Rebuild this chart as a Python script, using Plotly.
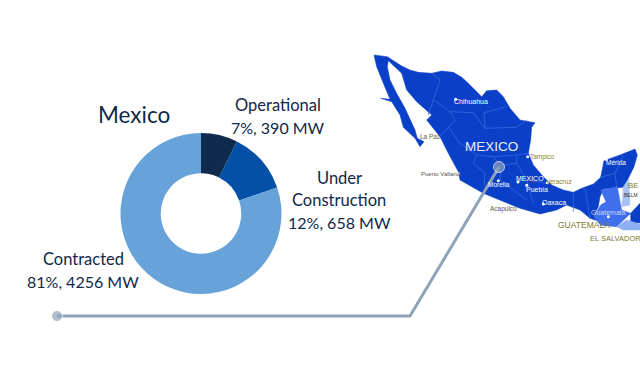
import plotly.graph_objects as go

# donut data
categories = ["Operational", "Under Construction", "Contracted"]
megawatts = [390, 658, 4256]
slice_colors = ["#0f2a4d", "#0450a8", "#67a3d9"]

# map outlines, in zoom-crop units of the reference (x0=360, y0=40, scale=3)
mexico_outline = [(42,45),(82,50),(125,78),(150,90),(175,97),(215,100),(245,93),(280,97),(305,112),(320,125),(345,150),(365,170),
 (380,152),(410,150),(430,170),(450,205),(480,240),(525,248),(515,262),(512,300),(505,340),(520,375),
 (548,408),(575,435),(610,450),(640,457),(665,445),(700,432),(722,412),(732,362),(780,345),(825,327),
 (832,345),(822,380),(805,415),(790,442),(730,447),(720,470),(715,500),(702,525),(722,545),(690,535),(660,510),
 (620,495),(590,510),(540,522),(480,505),(420,480),(370,460),(300,420),(295,395),(265,340),(240,290),
 (200,240),(215,225),(170,185),(140,150),(125,100),(85,62),(82,80),(90,120),(110,160),(135,205),(165,270),
 (172,295),(192,305),(180,320),(165,295),(130,262),(120,225),(95,185),(62,175),(90,178),(70,130),(50,80)]
guatemala_outline = [(722,450),(772,440),(785,510),(812,520),(770,560),(722,556),(702,530),(722,495),(738,485)]
belize_outline = [(790,440),(806,418),(810,495),(785,500)]
honduras_outline = [(812,520),(840,490),(840,548),(812,550)]
salvador_outline = [(770,560),(800,540),(840,552),(840,570),(790,570)]
state_borders = [
 [(215,100),(240,120),(220,180),(205,225)],
 [(220,180),(270,215),(285,240),(265,262),(300,310)],
 [(270,215),(340,218),(375,265),(372,218),(440,200)],
 [(375,265),(470,262),(500,240)],
 [(300,310),(350,345),(400,350),(470,345),(505,340)],
 [(350,345),(340,370),(375,400),(372,440)],
 [(400,350),(420,375),(470,370),(470,345)],
 [(470,370),(500,420),(560,430)],
 [(420,375),(420,420),(500,480)],
 [(500,420),(520,490)],
 [(640,457),(640,515)],
 [(722,412),(765,400),(790,345)],
 [(765,400),(770,440)],
 [(675,445),(690,535)],
 [(240,290),(265,262)],
]
map_labels = [("Chihuahua",333,183,7,"#ffffff"),("La Paz",211,290,6.5,"#5e5a3e"),("Puerto Vallarta",243,401,6,"#555555"),
 ("Tampico",547,350,6.5,"#8a8420"),("Morelia",417,432,6.5,"#ffffff"),("MEXICO",511,415,7,"#ffffff"),
 ("Puebia",530,449,7,"#ffffff"),("Veracruz",597,424,6.5,"#8a8420"),("Oaxaca",582,487,7,"#ffffff"),
 ("Acapulco",431,506,6.5,"#5e5a3e"),("Mérida",768,368,6.5,"#ffffff"),("Guatemala",745,516,7,"#c9d8f8"),
 ("GUATEMALA",672,556,8.5,"#7f7a2a"),("EL SALVADOR",766,596,7.5,"#7f7a2a"),("BE",820,437,8,"#7f7a2a"),("BELM",812,465,5,"#333333")]
city_dots = [(287,178),(503,350),(474,426),(500,436),(562,428),(550,492),(738,358),(415,422),(296,401),(785,455),(745,530)]

X = lambda v: 360 + v / 3
Y = lambda v: 40 + v / 3

fig = go.Figure()

def poly(pts, color):
    fig.add_trace(go.Scatter(x=[X(p[0]) for p in pts] + [X(pts[0][0])], y=[Y(p[1]) for p in pts] + [Y(pts[0][1])],
        mode="lines", fill="toself", fillcolor=color, line=dict(color=color, width=0.5), hoverinfo="skip", showlegend=False))

poly(mexico_outline, "#0a3fc8")
for line in state_borders:
    fig.add_trace(go.Scatter(x=[X(p[0]) for p in line], y=[Y(p[1]) for p in line], mode="lines",
        line=dict(color="#3f6fe0", width=0.7), hoverinfo="skip", showlegend=False))
poly(guatemala_outline, "#3f6fec")
poly(belize_outline, "#a8c0f2")
poly(honduras_outline, "#0a3fc8")
poly(salvador_outline, "#8fb0f2")
fig.add_trace(go.Scatter(x=[X(p[0]) for p in city_dots], y=[Y(p[1]) for p in city_dots], mode="markers",
    marker=dict(color="#ffffff", size=3), hoverinfo="skip", showlegend=False))

# leader line
leader_x = [57, 410, 499]
leader_y = [316, 316, 167]
fig.add_trace(go.Scatter(x=leader_x, y=leader_y, mode="lines", line=dict(color="#8fa3b8", width=3),
    hoverinfo="skip", showlegend=False))
fig.add_trace(go.Scatter(x=[leader_x[0], leader_x[2]], y=[leader_y[0], leader_y[2]], mode="markers",
    marker=dict(color="#8fa3b8", size=[11, 11]), hoverinfo="skip", showlegend=False))

# donut
fig.add_trace(go.Pie(labels=categories, values=megawatts, hole=0.5, sort=False, direction="clockwise", rotation=0,
    marker=dict(colors=slice_colors, line=dict(width=0)), textinfo="none", hoverinfo="label+value", showlegend=False,
    domain=dict(x=[120.5/640, 281.5/640], y=[1-294/373, 1-133/373])))

texts = [("Mexico",134,114,22.5,"#10284a"),("Operational",278,105,16.5,"#10284a"),("7%, 390 MW",278,127,16,"#10284a"),
 ("Under",339,178,16.5,"#10284a"),("Construction",339,200,16.5,"#10284a"),("12%, 658 MW",339,222,16,"#10284a"),
 ("Contracted",83,259,16.5,"#10284a"),("81%, 4256 MW",83,281,16,"#10284a")]
ann = [dict(x=t[1], y=t[2], text=t[0], showarrow=False, xanchor="center", yanchor="middle",
            font=dict(family="Lato", size=t[3], color=t[4])) for t in texts]
ann += [dict(x=X(t[1]), y=Y(t[2]), text=t[0], showarrow=False, xanchor="center", yanchor="middle",
             font=dict(family="Liberation Sans", size=t[3], color=t[4])) for t in map_labels]
ann.append(dict(x=X(395), y=Y(318), text="MEXICO", showarrow=False, xanchor="center", yanchor="middle",
                font=dict(family="Liberation Sans", size=13.5, color="#e8eefc")))

fig.update_layout(width=640, height=373, margin=dict(l=0, r=0, t=0, b=0), paper_bgcolor="white", plot_bgcolor="white",
    annotations=ann,
    xaxis=dict(range=[0, 640], visible=False, fixedrange=True),
    yaxis=dict(range=[373, 0], visible=False, fixedrange=True))
fig.write_html("out.html", config=dict(displayModeBar=False),
               post_script="document.body.style.margin='0';document.documentElement.style.overflow='hidden';")
